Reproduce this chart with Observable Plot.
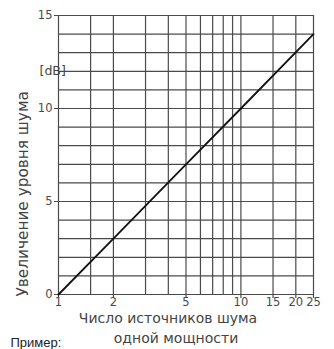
<!DOCTYPE html>
<html>
<head>
<meta charset="utf-8">
<script src="https://cdn.jsdelivr.net/npm/d3@7"></script>
<script src="https://cdn.jsdelivr.net/npm/@observablehq/plot@0.6"></script>
<style>
  html, body { margin: 0; padding: 0; background: #fff; }
</style>
</head>
<body>
<div id="chart"></div>
<script>
// Data
const sources = [1, 2, 5, 10, 25];          // number of equal noise sources
const increase = [0, 3, 7, 10, 14];         // level increase, dB
const xGrid = [1, 1.5, 2, 3, 4, 5, 6, 7, 8, 9, 10, 15, 20, 25];
const xTicks = [1, 2, 5, 10, 15, 20, 25];
const yGrid = [0, 1, 2, 3, 4, 5, 6, 7, 8, 9, 10, 11, 12, 13, 14, 15];
const yTicks = [0, 5, 10, 15];
const xTitle1 = "Число источников шума";
const xTitle2 = "одной мощности";
const yTitle = "Увеличение уровня шума";
const unit = "[dB]";
const example = "Пример:";

const data = sources.map((n, i) => ({n, db: increase[i]}));
const wide = "'DejaVu Sans', Verdana, sans-serif";
const gridColor = "#4a4a4a";

const chart = Plot.plot({
  width: 334,
  height: 349,
  marginLeft: 58,
  marginRight: 21,
  marginTop: 15,
  marginBottom: 55,
  style: {fontFamily: wide, color: "#4a4a4a", background: "#fff", overflow: "visible"},
  x: {type: "log", domain: [1, 25], axis: null},
  y: {domain: [0, 15]},
  marks: [
    Plot.ruleX(xGrid, {stroke: gridColor, strokeWidth: 1.2}),
    Plot.ruleY(yGrid, {stroke: gridColor, strokeWidth: 1.2}),
    // x tick marks and labels
    Plot.ruleX(xTicks, {x: d => d, y1: 0, y2: 0, insetBottom: -4, stroke: gridColor, strokeWidth: 1.2}),
    Plot.text(xTicks, {x: d => d, text: d => String(d), frameAnchor: "bottom", dy: 11, fontSize: 11.5, fill: "#4a4a4a"}),
    Plot.axisY(yTicks, {tickSize: 4, tickPadding: 2, fontSize: 11.5, label: null, stroke: gridColor}),
    Plot.line(data, {x: "n", y: "db", stroke: "#111", strokeWidth: 1.8}),
    Plot.text([xTitle1], {frameAnchor: "bottom", dx: -18, dy: 28, fontSize: 14, fill: "#444"}),
    Plot.text([xTitle2], {frameAnchor: "bottom", dx: -10, dy: 48, fontSize: 14, fill: "#444"}),
    Plot.text([yTitle], {frameAnchor: "bottom-left", dx: -31, dy: 2, rotate: -90, textAnchor: "start", fontSize: 15.3, fill: "#444"}),
    Plot.text([unit], {frameAnchor: "top-left", dx: -19, dy: 51, fontSize: 12.5, fill: "#444"}),
    Plot.text([example], {frameAnchor: "bottom-left", dx: -48, dy: 52, textAnchor: "start", fontSize: 13, fill: "#222", fontFamily: "'Liberation Sans', Arial, sans-serif"})
  ]
});
document.getElementById("chart").appendChild(chart);
</script>
</body>
</html>
